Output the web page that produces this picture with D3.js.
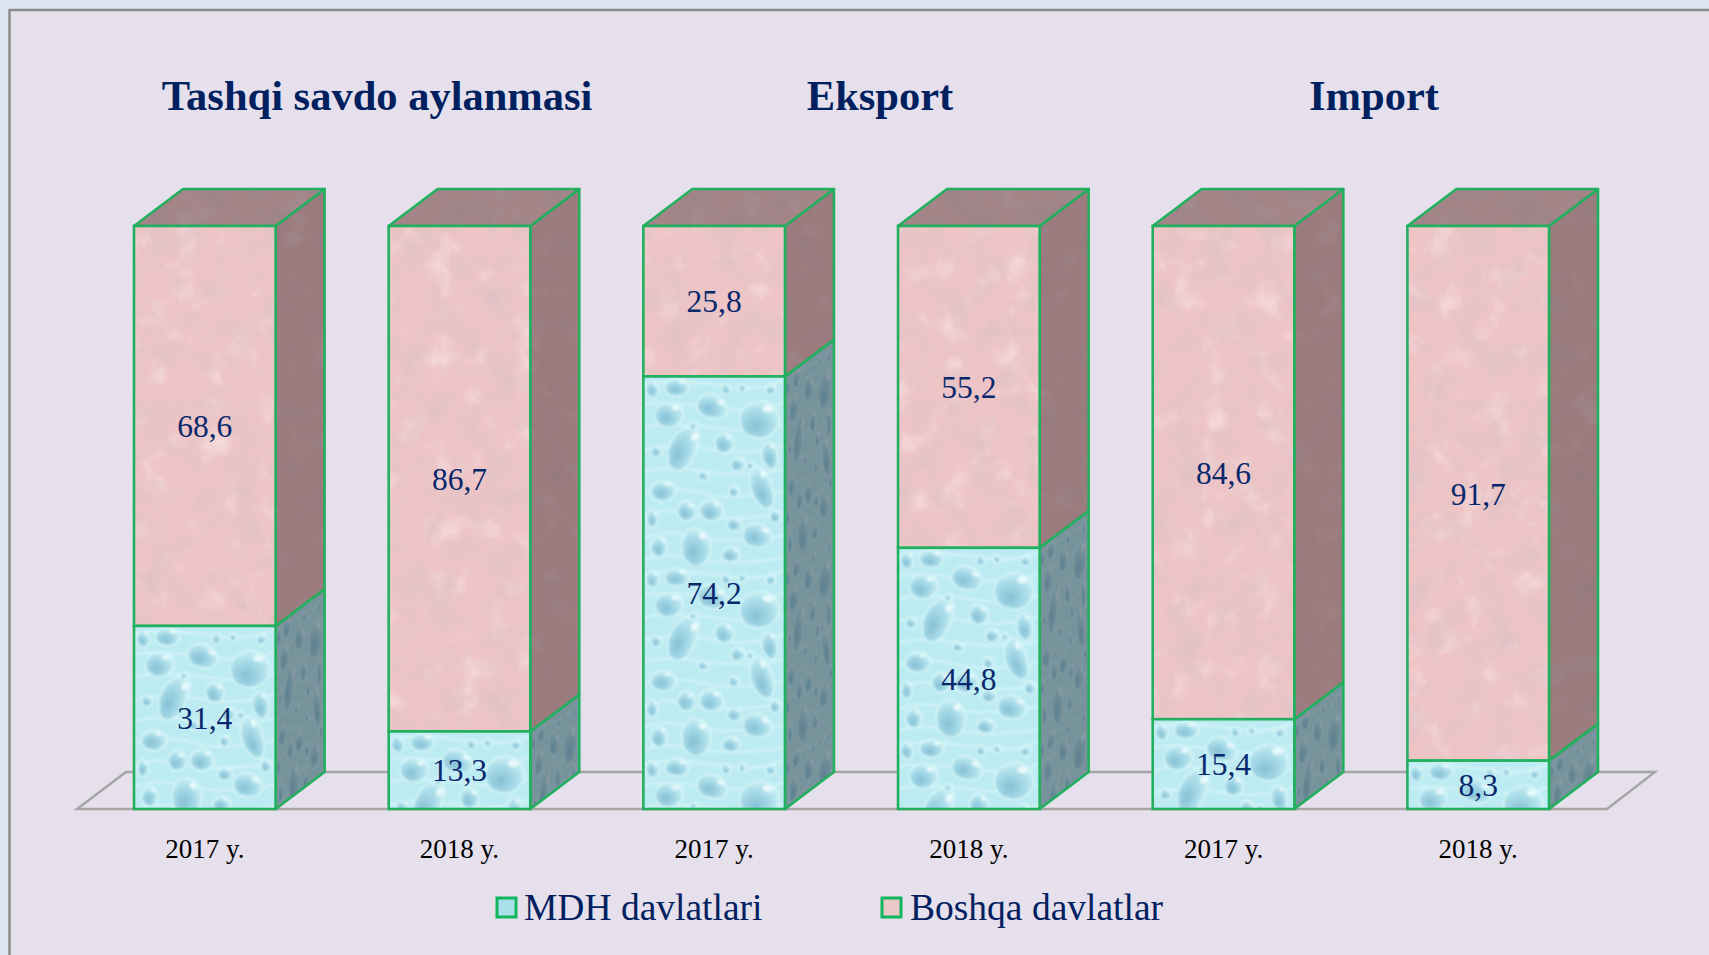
<!DOCTYPE html>
<html>
<head>
<meta charset="utf-8">
<script src="https://cdn.jsdelivr.net/npm/d3@7"></script>
<style>
  html, body { margin: 0; padding: 0; background: #dbe5f1; overflow: hidden; }
  svg { display: block; }
  text { font-family: "Liberation Serif", serif; }
</style>
</head>
<body>
<script>
// DATA
const categories = ['a2017', 'a2018', 'e2017', 'e2018', 'i2017', 'i2018'];
const yearLabels = ['2017 y.', '2018 y.', '2017 y.', '2018 y.', '2017 y.', '2018 y.'];
const mdhValues = [31.4, 13.3, 74.2, 44.8, 15.4, 8.3];
const boshqaValues = [68.6, 86.7, 25.8, 55.2, 84.6, 91.7];
const seriesNames = ['MDH davlatlari', 'Boshqa davlatlar'];
const groupTitles = ['Tashqi savdo aylanmasi', 'Eksport', 'Import'];

// CONSTANTS
const WIDTH = 1709;
const HEIGHT = 955;
const DEPTH_X = 49;
const DEPTH_Y = 37;
const GREEN = '#22b05f';
const NAVY = '#002060';
const VALUE_BLUE = '#08286c';
const TITLE_X = [377, 880, 1374];

const svg = d3.select('body').append('svg').attr('width', WIDTH).attr('height', HEIGHT);
const defs = svg.append('defs');

const X_SCALE = d3.scaleBand().domain(categories).range([134, 1549]).paddingInner(0.444);
const Y_SCALE = d3.scaleLinear().domain([0, 100]).range([809, 226]);
const BAR_W = X_SCALE.bandwidth();

const rows = categories.map((c, i) => ({ cat: c, mdh: mdhValues[i], boshqa: boshqaValues[i] }));
const stacked = d3.stack().keys(['mdh', 'boshqa'])(rows);

// TEXTURES
const dropGrad = defs.append('radialGradient').attr('id', 'dropGrad')
  .attr('cx', '0.4').attr('cy', '0.66').attr('r', '0.68');
dropGrad.append('stop').attr('offset', '0').attr('stop-color', '#86c0d6');
dropGrad.append('stop').attr('offset', '0.6').attr('stop-color', '#a9dce8');
dropGrad.append('stop').attr('offset', '1').attr('stop-color', '#c8eff4');

const marble = defs.append('filter').attr('id', 'marble')
  .attr('x', 0).attr('y', 0).attr('width', 1).attr('height', 1);
marble.append('feTurbulence').attr('type', 'fractalNoise').attr('baseFrequency', 0.035)
  .attr('numOctaves', 5).attr('seed', 7).attr('result', 'noise');
marble.append('feColorMatrix').attr('in', 'noise').attr('type', 'matrix')
  .attr('values', '0 0 0 0 0.74  0 0 0 0 0.54  0 0 0 0 0.56  2.2 0 0 0 -0.95').attr('result', 'blot');
marble.append('feColorMatrix').attr('in', 'noise').attr('type', 'matrix')
  .attr('values', '0 0 0 0 0.96  0 0 0 0 0.82  0 0 0 0 0.82  0 -1.5 0 0 0.68').attr('result', 'glow');
marble.append('feComposite').attr('in', 'blot').attr('in2', 'SourceGraphic').attr('operator', 'in').attr('result', 'cut');
marble.append('feComposite').attr('in', 'glow').attr('in2', 'SourceGraphic').attr('operator', 'in').attr('result', 'cut2');
const marbleMerge = marble.append('feMerge');
marbleMerge.append('feMergeNode').attr('in', 'SourceGraphic');
marbleMerge.append('feMergeNode').attr('in', 'cut2');
marbleMerge.append('feMergeNode').attr('in', 'cut');

const soften = defs.append('filter').attr('id', 'soften')
  .attr('filterUnits', 'userSpaceOnUse').attr('x', 0).attr('y', 0).attr('width', BAR_W).attr('height', 190);
soften.append('feTurbulence').attr('type', 'fractalNoise').attr('baseFrequency', 0.022)
  .attr('numOctaves', 1).attr('seed', 3).attr('result', 'wob');
soften.append('feDisplacementMap').attr('in', 'SourceGraphic').attr('in2', 'wob')
  .attr('scale', 7).attr('xChannelSelector', 'R').attr('yChannelSelector', 'G').attr('result', 'moved');
soften.append('feGaussianBlur').attr('in', 'moved').attr('stdDeviation', 0.9);

function buildDropTile() {
  // [cx, cy, rx, ry, rotation] inside one tile of the water picture
  const drops = [
    [116, 43, 19, 19, 0], [41, 72, 12, 23, 25], [26, 38, 13, 12, 0], [68, 30, 15, 12, 20],
    [33, 10, 11, 8, 0], [9, 13, 6, 8, 0], [81, 67, 9, 9, 0], [126, 80, 8, 12, -10],
    [119, 112, 10, 21, -20], [20, 115, 11, 10, 0], [69, 133, 11, 10, 0], [43, 135, 9, 9, 0],
    [9, 143, 5, 8, 0], [91, 148, 7, 6, 0], [53, 170, 15, 18, 0], [114, 160, 14, 11, 15],
    [94, 88, 6, 6, 0], [83, 12, 4, 4, 0], [128, 13, 4, 4, 0], [14, 75, 5, 5, 0],
    [60, 100, 5, 4, 0], [92, 115, 4, 5, 0], [15, 172, 7, 9, 0], [88, 178, 8, 7, 0],
    [132, 140, 5, 6, 0], [106, 90, 3, 3, 0], [50, 50, 3, 3, 0], [100, 10, 3, 3, 0]
  ];
  const tile = defs.append('pattern').attr('id', 'drops')
    .attr('patternUnits', 'userSpaceOnUse').attr('width', BAR_W).attr('height', 190);
  tile.append('rect').attr('width', BAR_W).attr('height', 190).attr('fill', '#bdebf2');
  const inner = tile.append('g').attr('filter', 'url(#soften)');
  inner.selectAll('path.vein').data(d3.range(9)).enter().append('path')
    .attr('class', 'vein')
    .attr('d', d => `M0,${d * 22 + 8} C40,${d * 22 - 6} 90,${d * 22 + 22} ${BAR_W},${d * 22 + 4}`)
    .attr('fill', 'none').attr('stroke', '#cff3f6').attr('stroke-width', 2.5);
  const g = inner.selectAll('g.drop').data(drops).enter().append('g')
    .attr('class', 'drop')
    .attr('transform', d => `translate(${d[0]},${d[1]}) rotate(${d[4]})`);
  g.append('ellipse').attr('rx', d => d[2] + 1.5).attr('ry', d => d[3] + 1.5)
    .attr('fill', '#d8f7f9');
  g.append('ellipse').attr('rx', d => d[2]).attr('ry', d => d[3])
    .attr('fill', 'url(#dropGrad)');
  g.append('ellipse')
    .attr('cx', d => d[2] * 0.45).attr('cy', d => -d[3] * 0.62)
    .attr('rx', d => d[2] * 0.28).attr('ry', d => d[3] * 0.18)
    .attr('fill', '#eefcfd').attr('opacity', 0.85);
}
buildDropTile();

// one pattern per bar, so that the picture starts at the top of each block
categories.forEach(c => {
  const x = X_SCALE(c);
  const row = rows.find(r => r.cat === c);
  const top = Y_SCALE(row.mdh);
  defs.append('pattern').attr('id', 'front-' + c).attr('href', '#drops')
    .attr('patternTransform', `translate(${x},${top})`);
  defs.append('pattern').attr('id', 'side-' + c).attr('href', '#drops')
    .attr('patternTransform', `matrix(${DEPTH_X / BAR_W},${-DEPTH_Y / BAR_W},0,1,${x + BAR_W},${top})`);
});

// BACKGROUND
svg.append('rect').attr('x', 9.5).attr('y', 10).attr('width', WIDTH).attr('height', HEIGHT)
  .attr('fill', '#e5e0ec').attr('stroke', '#8c8c8c').attr('stroke-width', 2.5);

// TITLES
svg.selectAll('text.title').data(groupTitles).enter().append('text')
  .attr('class', 'title')
  .attr('x', (d, i) => TITLE_X[i])
  .attr('y', 110)
  .attr('text-anchor', 'middle')
  .attr('font-size', 42.5)
  .attr('font-weight', 'bold')
  .attr('fill', NAVY)
  .text(d => d);

// FLOOR
const floorLeft = 77;
const floorRight = 1607;
svg.append('path')
  .attr('d', `M${floorLeft},${Y_SCALE(0)} L${floorRight},${Y_SCALE(0)} L${floorRight + DEPTH_X - 1},${Y_SCALE(0) - DEPTH_Y} L${floorLeft + DEPTH_X},${Y_SCALE(0) - DEPTH_Y} Z`)
  .attr('fill', 'none')
  .attr('stroke', '#a5a5a5')
  .attr('stroke-width', 2.4);

// BARS
const bars = svg.selectAll('g.bar').data(categories).enter().append('g')
  .attr('class', 'bar');

function sidePath(x, y0, y1) {
  return `M${x},${y0} L${x + DEPTH_X},${y0 - DEPTH_Y} L${x + DEPTH_X},${y1 - DEPTH_Y} L${x},${y1} Z`;
}

bars.each(function(c, i) {
  const g = d3.select(this);
  const x = X_SCALE(c);
  const right = x + BAR_W;
  const [m, b] = [stacked[0][i], stacked[1][i]];

  // side faces
  g.append('path').attr('d', sidePath(right, Y_SCALE(m[0]), Y_SCALE(m[1])))
    .attr('fill', 'url(#side-' + c + ')');
  g.append('path').attr('d', sidePath(right, Y_SCALE(m[0]), Y_SCALE(m[1])))
    .attr('fill', '#3d4a55').attr('fill-opacity', 0.55)
    .attr('stroke', GREEN).attr('stroke-width', 2.6).attr('stroke-linejoin', 'round');
  g.append('path').attr('d', sidePath(right, Y_SCALE(b[0]), Y_SCALE(b[1])))
    .attr('fill', '#eec4c6').attr('filter', 'url(#marble)');
  g.append('path').attr('d', sidePath(right, Y_SCALE(b[0]), Y_SCALE(b[1])))
    .attr('fill', '#5a3f44').attr('fill-opacity', 0.55)
    .attr('stroke', GREEN).attr('stroke-width', 2.6).attr('stroke-linejoin', 'round');

  // top face
  const yTop = Y_SCALE(b[1]);
  const topPath = `M${x},${yTop} L${x + DEPTH_X},${yTop - DEPTH_Y} L${right + DEPTH_X},${yTop - DEPTH_Y} L${right},${yTop} Z`;
  g.append('path').attr('d', topPath).attr('fill', '#eec4c6').attr('filter', 'url(#marble)');
  g.append('path').attr('d', topPath)
    .attr('fill', '#5a4549').attr('fill-opacity', 0.5)
    .attr('stroke', GREEN).attr('stroke-width', 2.6).attr('stroke-linejoin', 'round');

  // front faces
  g.append('rect').attr('x', x).attr('y', Y_SCALE(b[1]))
    .attr('width', BAR_W).attr('height', Y_SCALE(b[0]) - Y_SCALE(b[1]))
    .attr('fill', '#eec4c6').attr('filter', 'url(#marble)');
  g.append('rect').attr('x', x).attr('y', Y_SCALE(b[1]))
    .attr('width', BAR_W).attr('height', Y_SCALE(b[0]) - Y_SCALE(b[1]))
    .attr('fill', 'none').attr('stroke', GREEN).attr('stroke-width', 2.6);
  g.append('rect').attr('x', x).attr('y', Y_SCALE(m[1]))
    .attr('width', BAR_W).attr('height', Y_SCALE(m[0]) - Y_SCALE(m[1]))
    .attr('fill', 'url(#front-' + c + ')')
    .attr('stroke', GREEN).attr('stroke-width', 2.6);

  // value labels
  [m, b].forEach(s => {
    g.append('text')
      .attr('x', x + BAR_W / 2)
      .attr('y', (Y_SCALE(s[0]) + Y_SCALE(s[1])) / 2 + 0.5)
      .attr('dy', '0.34em')
      .attr('text-anchor', 'middle')
      .attr('font-size', 31.5)
      .attr('fill', VALUE_BLUE)
      .text((s[1] - s[0]).toFixed(1).replace('.', ','));
  });
});

// X-AXIS
const X_AXIS = d3.axisBottom(X_SCALE).tickSize(0).tickPadding(0)
  .tickFormat((d, i) => yearLabels[i]);
const xAxisG = svg.append('g')
  .attr('transform', 'translate(0,' + 839 + ')')
  .call(X_AXIS);
xAxisG.select('.domain').remove();
xAxisG.selectAll('text')
  .attr('font-family', '"Liberation Serif", serif')
  .attr('font-size', 27)
  .attr('fill', '#000');

// LEGEND
const legendSwatchX = [497, 882];
const legendTextX = [524, 910];
const legendFill = ['#a9e0e9', '#ecc8c8'];
const legend = svg.selectAll('g.legend').data(seriesNames).enter().append('g').attr('class', 'legend');
legend.append('rect')
  .attr('x', (d, i) => legendSwatchX[i])
  .attr('y', 898)
  .attr('width', 19)
  .attr('height', 19)
  .attr('fill', (d, i) => legendFill[i])
  .attr('stroke', '#10b65c')
  .attr('stroke-width', 3);
legend.append('text')
  .attr('x', (d, i) => legendTextX[i])
  .attr('y', 920)
  .attr('font-size', 37.5)
  .attr('fill', NAVY)
  .text(d => d);
</script>
</body>
</html>
